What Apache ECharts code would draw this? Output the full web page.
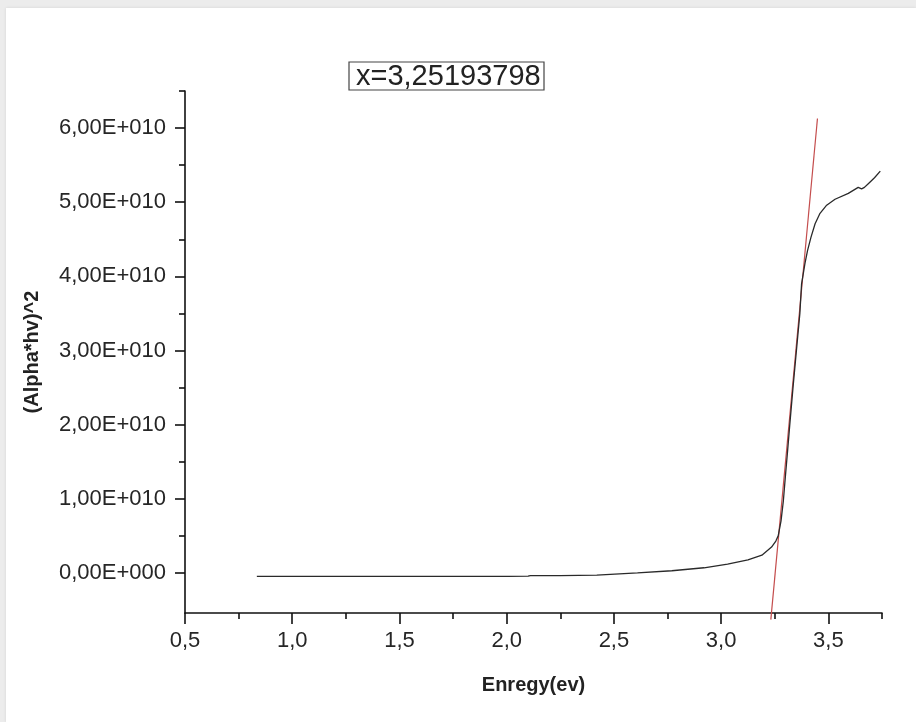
<!DOCTYPE html>
<html>
<head>
<meta charset="utf-8">
<script src="https://cdn.jsdelivr.net/npm/echarts@6/dist/echarts.min.js"></script>
<style>
  html, body { margin: 0; padding: 0; background: #ececec; }
  #panel { position: absolute; left: 6px; top: 8px; width: 910px; height: 714px; background: #ffffff; box-shadow: 0 0 3px rgba(0,0,0,0.10); }
  #chart { position: absolute; left: 0; top: 0; width: 916px; height: 722px; }
</style>
</head>
<body>
<div id="panel"></div>
<div id="chart"></div>
<script>
// Tauc plot: (alpha*h*nu)^2 against photon energy, with the linear fit of the absorption edge
const energy = [
  0.835, 1.00, 1.25, 1.50, 1.75, 2.00, 2.10, 2.11, 2.25, 2.42,
  2.61, 2.77, 2.92, 3.03, 3.125, 3.19, 3.235, 3.255, 3.266, 3.279,
  3.290, 3.300, 3.309, 3.320, 3.335, 3.351, 3.367, 3.375, 3.391, 3.403,
  3.419, 3.438, 3.461, 3.492, 3.531, 3.593, 3.639, 3.655, 3.668, 3.686,
  3.715, 3.742
];
const alphaHv2 = [
  -0.045e10, -0.045e10, -0.045e10, -0.045e10, -0.045e10, -0.045e10, -0.044e10, -0.035e10, -0.035e10, -0.03e10,
  0.0, 0.03e10, 0.07e10, 0.12e10, 0.175e10, 0.24e10, 0.35e10, 0.43e10, 0.50e10, 0.70e10,
  0.97e10, 1.32e10, 1.62e10, 2.00e10, 2.50e10, 3.00e10, 3.50e10, 3.90e10, 4.18e10, 4.35e10,
  4.53e10, 4.71e10, 4.85e10, 4.96e10, 5.04e10, 5.12e10, 5.20e10, 5.18e10, 5.20e10, 5.25e10,
  5.33e10, 5.42e10
];

// Linear fit of the edge: crosses zero at fitIntercept
const fitIntercept = 3.25193798;
const fitSlope = 31.1e10;
const fitY = [-0.63e10, 6.13e10];

const xMajorTicks = [0.5, 1.0, 1.5, 2.0, 2.5, 3.0, 3.5];
const xTickLabels = ['0,5', '1,0', '1,5', '2,0', '2,5', '3,0', '3,5'];
const xMinorTicks = [0.75, 1.25, 1.75, 2.25, 2.75, 3.25, 3.75];

const yMajorTicks = [0, 1e10, 2e10, 3e10, 4e10, 5e10, 6e10];
const yTickLabels = ['0,00E+000', '1,00E+010', '2,00E+010', '3,00E+010', '4,00E+010', '5,00E+010', '6,00E+010'];
const yMinorTicks = [0.5e10, 1.5e10, 2.5e10, 3.5e10, 4.5e10, 5.5e10, 6.5e10];

const FONT = '"Liberation Sans", Arial, sans-serif';
const AXIS_COLOR = '#111';

function labelFor(ticks, labels, tol) {
  return function (v) {
    const i = ticks.findIndex(t => Math.abs(t - v) < tol);
    return i >= 0 ? labels[i] : '';
  };
}

const chart = echarts.init(document.getElementById('chart'), null, { renderer: 'canvas' });

chart.setOption({
  animation: false,
  backgroundColor: 'transparent',
  grid: { left: 185, right: 34, top: 91, bottom: 109, containLabel: false },
  xAxis: [
    {
      type: 'value', min: 0.5, max: 3.75, position: 'bottom',
      axisLine: { show: true, onZero: false, lineStyle: { color: AXIS_COLOR, width: 1.6 } },
      axisTick: { show: true, inside: false, customValues: xMajorTicks, length: 11, lineStyle: { color: AXIS_COLOR, width: 1.6 } },
      axisLabel: { customValues: xMajorTicks, formatter: labelFor(xMajorTicks, xTickLabels, 1e-6),
                   color: '#262626', fontSize: 22, fontFamily: FONT, margin: 17 },
      splitLine: { show: false },
      name: 'Enregy(ev)', nameLocation: 'middle', nameGap: 62,
      nameTextStyle: { fontWeight: 'bold', fontSize: 20, color: '#222', fontFamily: FONT }
    },
    {
      type: 'value', min: 0.5, max: 3.75, position: 'bottom',
      axisLine: { show: false, onZero: false },
      axisTick: { show: true, inside: false, customValues: xMinorTicks, length: 6, lineStyle: { color: AXIS_COLOR, width: 1.6 } },
      axisLabel: { show: false },
      splitLine: { show: false }
    }
  ],
  yAxis: [
    {
      type: 'value', min: -0.54e10, max: 6.5e10, position: 'left',
      axisLine: { show: true, onZero: false, lineStyle: { color: AXIS_COLOR, width: 1.6 } },
      axisTick: { show: true, inside: false, customValues: yMajorTicks, length: 10, lineStyle: { color: AXIS_COLOR, width: 1.6 } },
      axisLabel: { customValues: yMajorTicks, formatter: labelFor(yMajorTicks, yTickLabels, 1e6),
                   color: '#262626', fontSize: 22, fontFamily: FONT, margin: 19 },
      splitLine: { show: false },
      name: '(Alpha*hv)^2', nameLocation: 'middle', nameGap: 143,
      nameTextStyle: { fontWeight: 'bold', fontSize: 20, color: '#222', fontFamily: FONT }
    },
    {
      type: 'value', min: -0.54e10, max: 6.5e10, position: 'left',
      axisLine: { show: false, onZero: false },
      axisTick: { show: true, inside: false, customValues: yMinorTicks, length: 6, lineStyle: { color: AXIS_COLOR, width: 1.6 } },
      axisLabel: { show: false },
      splitLine: { show: false }
    }
  ],
  graphic: [
    { type: 'rect', shape: { x: 349, y: 62, width: 195, height: 28 },
      style: { fill: '#fff', stroke: '#444', lineWidth: 1.2 }, z: 10 },
    { type: 'text', x: 356, y: 77,
      style: { text: 'x=' + String(fitIntercept).replace('.', ','), fontSize: 29, fontFamily: FONT,
               fill: '#222', verticalAlign: 'middle', align: 'left' }, z: 11 }
  ],
  series: [
    {
      name: 'fit', type: 'line', xAxisIndex: 0, yAxisIndex: 0,
      data: fitY.map(y => [fitIntercept + y / fitSlope, y]),
      showSymbol: false, clip: false, z: 2,
      lineStyle: { color: '#c44d4d', width: 1.2 }
    },
    {
      name: 'tauc', type: 'line', xAxisIndex: 0, yAxisIndex: 0,
      data: energy.map((x, i) => [x, alphaHv2[i]]),
      showSymbol: false, z: 3,
      lineStyle: { color: '#2a2a2a', width: 1.3 }
    }
  ]
});
</script>
</body>
</html>
